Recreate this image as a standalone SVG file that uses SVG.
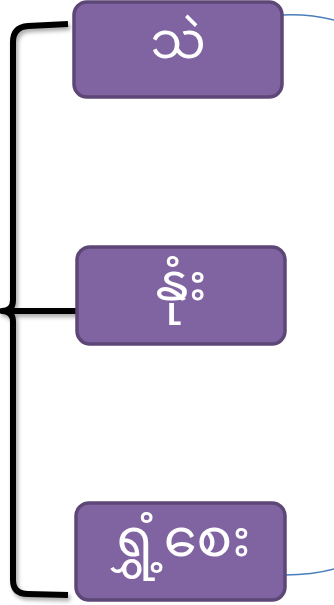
<svg xmlns="http://www.w3.org/2000/svg" width="334" height="605" viewBox="0 0 334 605">
<defs>
<style>
.node rect{fill:#8064a2;stroke:#5c4776;stroke-width:3.5}
.node text{fill:#ffffff;font-family:"Noto Sans Myanmar","Padauk","Myanmar Text","Noto Sans",sans-serif;font-size:53px;text-anchor:middle;dominant-baseline:central}
.brace{fill:none;stroke:#000;stroke-width:6;stroke-linejoin:round}
.link{fill:none;stroke:#4a7ebb;stroke-width:1.5}
</style>
<filter id="sh" x="-20%" y="-5%" width="140%" height="110%">
<feGaussianBlur in="SourceAlpha" stdDeviation="2"/>
<feOffset dx="2" dy="3" result="b"/>
<feComponentTransfer><feFuncA type="linear" slope="0.35"/></feComponentTransfer>
<feMerge><feMergeNode/><feMergeNode in="SourceGraphic"/></feMerge>
</filter>
</defs>
<g id="connectors">
<path class="link" d="M 283 15 Q 310 14 334 20"/>
<path class="link" d="M 285 575 Q 312 575 334 569"/>
<g filter="url(#sh)">
<path class="brace" d="M 68 24 L 28 26 Q 13 27 13 42 L 13 300 Q 13 311 2 311 Q 13 311 13 322 L 13 580 Q 13 594 28 594 L 68 595"/>
<path class="brace" d="M 4 311 L 78 311"/>
</g>
</g>
<g id="node-sand" class="node">
<rect x="74" y="2" width="208" height="95" rx="13"/>
<text x="178" y="46" style="font-size:49px">သဲ</text>
</g>
<g id="node-silt" class="node">
<rect x="77" y="247" width="208" height="97" rx="13"/>
<text x="181" y="288">နုံး</text>
</g>
<g id="node-clay" class="node">
<rect x="76" y="503" width="209" height="97" rx="13"/>
<text x="180" y="544">ရွှံ့စေး</text>
</g>
</svg>
